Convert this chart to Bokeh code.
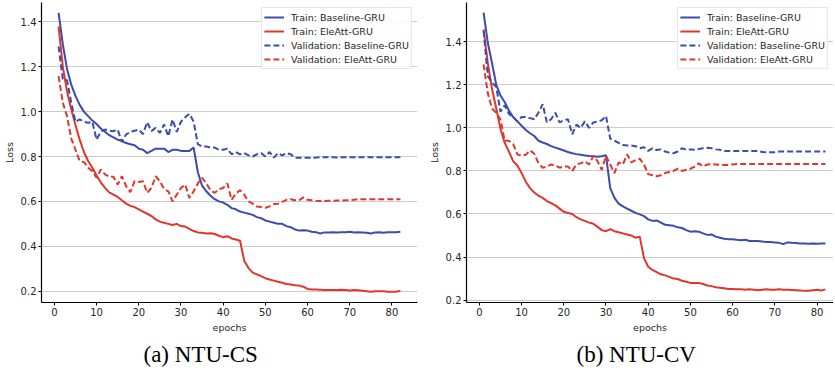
from bokeh.plotting import figure
from bokeh.models import Range1d, FixedTicker, NumeralTickFormatter, Title
from bokeh.layouts import row
from bokeh.embed import file_html
from bokeh.resources import INLINE

epochs = list(range(1, 83))
x_ticks = [0, 10, 20, 30, 40, 50, 60, 70, 80]
y_ticks = [0.2, 0.4, 0.6, 0.8, 1.0, 1.2, 1.4]
labels = ["Train: Baseline-GRU", "Train: EleAtt-GRU",
          "Validation: Baseline-GRU", "Validation: EleAtt-GRU"]
captions = ["(a) NTU-CS", "(b) NTU-CV"]

# ---- NTU-CS ----
cs_train_base = [1.44, 1.30, 1.19, 1.12, 1.07, 1.03, 1.00, 0.98, 0.96, 0.945,
                 0.925, 0.91, 0.895, 0.885, 0.875, 0.87, 0.86, 0.855, 0.85, 0.835,
                 0.83, 0.815, 0.825, 0.835, 0.835, 0.835, 0.82, 0.83, 0.83, 0.825,
                 0.825, 0.825, 0.84, 0.73, 0.67, 0.645, 0.625, 0.61, 0.60, 0.595,
                 0.585, 0.57, 0.565, 0.555, 0.55, 0.545, 0.54, 0.53, 0.525, 0.515,
                 0.51, 0.505, 0.50, 0.50, 0.49, 0.485, 0.475, 0.47, 0.472, 0.47,
                 0.465, 0.463, 0.457, 0.462, 0.462, 0.463, 0.462, 0.463, 0.463, 0.465,
                 0.462, 0.463, 0.462, 0.46, 0.457, 0.462, 0.463, 0.46, 0.463, 0.463,
                 0.463, 0.465]
cs_train_ele = [1.38, 1.20, 1.09, 1.01, 0.94, 0.875, 0.82, 0.78, 0.75, 0.715,
                0.685, 0.66, 0.64, 0.63, 0.62, 0.605, 0.59, 0.58, 0.575, 0.565,
                0.555, 0.545, 0.535, 0.52, 0.51, 0.505, 0.50, 0.495, 0.50, 0.49,
                0.488, 0.478, 0.468, 0.462, 0.46, 0.457, 0.458, 0.455, 0.447, 0.44,
                0.445, 0.435, 0.43, 0.425, 0.335, 0.303, 0.283, 0.275, 0.267, 0.258,
                0.252, 0.247, 0.242, 0.238, 0.232, 0.23, 0.227, 0.225, 0.22, 0.21,
                0.208, 0.208, 0.207, 0.205, 0.205, 0.205, 0.205, 0.206, 0.205, 0.203,
                0.205, 0.204, 0.202, 0.20, 0.198, 0.20, 0.20, 0.20, 0.198, 0.198,
                0.198, 0.202]
cs_val_base = [1.29, 1.145, 1.14, 1.04, 0.955, 0.965, 0.955, 0.95, 0.955, 0.875,
               0.91, 0.92, 0.915, 0.913, 0.92, 0.865, 0.898, 0.91, 0.915, 0.92,
               0.90, 0.953, 0.913, 0.928, 0.905, 0.943, 0.89, 0.965, 0.91, 0.955,
               0.975, 0.99, 0.955, 0.855, 0.845, 0.845, 0.84, 0.84, 0.83, 0.83,
               0.835, 0.81, 0.82, 0.81, 0.815, 0.805, 0.80, 0.81, 0.815, 0.80,
               0.82, 0.795, 0.815, 0.805, 0.815, 0.81, 0.795, 0.795, 0.795, 0.795,
               0.793, 0.795, 0.797, 0.797, 0.797, 0.797, 0.796, 0.797, 0.797, 0.797,
               0.797, 0.797, 0.797, 0.797, 0.797, 0.797, 0.797, 0.797, 0.797, 0.797,
               0.797, 0.797]
cs_val_ele = [1.158, 1.04, 0.98, 0.88, 0.83, 0.78, 0.775, 0.75, 0.735, 0.705,
              0.742, 0.72, 0.71, 0.71, 0.675, 0.712, 0.668, 0.641, 0.69, 0.686,
              0.69, 0.638, 0.66, 0.712, 0.69, 0.655, 0.645, 0.60, 0.63, 0.66,
              0.675, 0.615, 0.645, 0.68, 0.705, 0.68, 0.65, 0.638, 0.655, 0.66,
              0.68, 0.607, 0.635, 0.65, 0.63, 0.60, 0.59, 0.577, 0.575, 0.572,
              0.578, 0.588, 0.59, 0.598, 0.607, 0.61, 0.605, 0.605, 0.618, 0.607,
              0.605, 0.603, 0.602, 0.602, 0.603, 0.603, 0.604, 0.604, 0.605, 0.605,
              0.607, 0.61, 0.61, 0.61, 0.61, 0.61, 0.61, 0.61, 0.61, 0.61,
              0.61, 0.61]

# ---- NTU-CV ----
cv_train_base = [1.535, 1.395, 1.30, 1.20, 1.15, 1.12, 1.08, 1.05, 1.03, 1.01,
                 0.99, 0.975, 0.962, 0.94, 0.932, 0.925, 0.915, 0.908, 0.902, 0.895,
                 0.888, 0.882, 0.878, 0.875, 0.872, 0.869, 0.868, 0.866, 0.868, 0.873,
                 0.72, 0.675, 0.648, 0.635, 0.625, 0.615, 0.605, 0.598, 0.59, 0.575,
                 0.568, 0.57, 0.56, 0.55, 0.548, 0.545, 0.538, 0.535, 0.525, 0.518,
                 0.52, 0.518, 0.51, 0.503, 0.505, 0.495, 0.49, 0.485, 0.483, 0.483,
                 0.48, 0.478, 0.48, 0.475, 0.475, 0.475, 0.472, 0.47, 0.47, 0.468,
                 0.466, 0.46, 0.468, 0.466, 0.465, 0.463, 0.463, 0.462, 0.463, 0.462,
                 0.463, 0.463]
cv_train_ele = [1.457, 1.30, 1.18, 1.09, 0.995, 0.93, 0.89, 0.845, 0.825, 0.79,
                0.75, 0.72, 0.70, 0.685, 0.675, 0.66, 0.65, 0.64, 0.625, 0.61,
                0.605, 0.60, 0.585, 0.575, 0.568, 0.56, 0.555, 0.54, 0.525, 0.52,
                0.53, 0.52, 0.515, 0.51, 0.505, 0.50, 0.49, 0.495, 0.395, 0.355,
                0.34, 0.33, 0.32, 0.315, 0.308, 0.30, 0.298, 0.29, 0.285, 0.28,
                0.28, 0.28, 0.275, 0.268, 0.265, 0.26, 0.258, 0.255, 0.252, 0.252,
                0.25, 0.25, 0.248, 0.25, 0.248, 0.246, 0.248, 0.25, 0.248, 0.248,
                0.25, 0.248, 0.248, 0.247, 0.246, 0.245, 0.243, 0.244, 0.246, 0.248,
                0.245, 0.25]
cv_val_base = [1.45, 1.24, 1.21, 1.19, 1.075, 1.105, 1.065, 1.05, 1.03, 1.05,
               1.05, 1.045, 1.04, 1.07, 1.11, 1.025, 1.04, 1.07, 1.025, 1.035,
               1.04, 0.97, 1.015, 1.0, 1.03, 1.0, 1.025, 1.03, 1.035, 1.055,
               0.95, 0.94, 0.93, 0.92, 0.918, 0.918, 0.915, 0.905, 0.91, 0.893,
               0.905, 0.897, 0.90, 0.89, 0.885, 0.882, 0.89, 0.905, 0.898, 0.90,
               0.898, 0.902, 0.905, 0.907, 0.905, 0.90, 0.898, 0.893, 0.892, 0.892,
               0.892, 0.892, 0.892, 0.892, 0.892, 0.892, 0.888, 0.887, 0.887, 0.887,
               0.89, 0.89, 0.89, 0.89, 0.89, 0.89, 0.89, 0.89, 0.89, 0.89,
               0.89, 0.89]
cv_val_ele = [1.295, 1.16, 1.09, 1.07, 1.04, 0.94, 0.94, 0.925, 0.877, 0.87,
              0.875, 0.895, 0.88, 0.835, 0.815, 0.82, 0.83, 0.825, 0.815, 0.82,
              0.82, 0.80, 0.83, 0.835, 0.845, 0.83, 0.87, 0.845, 0.805, 0.87,
              0.83, 0.79, 0.84, 0.83, 0.877, 0.84, 0.85, 0.857, 0.83, 0.785,
              0.78, 0.775, 0.78, 0.79, 0.795, 0.80, 0.81, 0.80, 0.805, 0.81,
              0.82, 0.835, 0.82, 0.83, 0.832, 0.83, 0.828, 0.828, 0.828, 0.83,
              0.832, 0.832, 0.832, 0.832, 0.832, 0.832, 0.832, 0.832, 0.832, 0.832,
              0.832, 0.832, 0.832, 0.832, 0.832, 0.832, 0.832, 0.832, 0.832, 0.832,
              0.832, 0.832]

BLUE = "#3a4cad"
RED = "#e0362c"
TICK_FONT = "DejaVu Sans"


def make_panel(series, caption, frame_w, x_end, y_start, y_end, border_right, cap_offset):
    p = figure(frame_width=frame_w, frame_height=300,
               x_range=Range1d(-3.05, x_end), y_range=Range1d(y_start, y_end),
               output_backend="svg", toolbar_location=None,
               min_border_left=0, min_border_right=border_right,
               min_border_top=2, min_border_bottom=0,
               background_fill_color="white", border_fill_color="white")
    p.outline_line_color = None
    p.xgrid.grid_line_color = None
    p.ygrid.grid_line_color = "#cccccc"
    p.ygrid.grid_line_width = 1
    p.xaxis.ticker = FixedTicker(ticks=x_ticks)
    p.yaxis.ticker = FixedTicker(ticks=y_ticks)
    p.yaxis.formatter = NumeralTickFormatter(format="0.0")
    for ax in (p.xaxis[0], p.yaxis[0]):
        ax.axis_line_color = "black"
        ax.axis_line_width = 1.2
        ax.major_tick_line_color = "black"
        ax.major_tick_out = 3
        ax.major_tick_in = 0
        ax.minor_tick_line_color = None
        ax.major_label_text_font = TICK_FONT
        ax.major_label_text_font_size = "10px"
        ax.major_label_text_color = "#262626"
        ax.major_label_standoff = 2
        ax.axis_label_text_font = TICK_FONT
        ax.axis_label_text_font_size = "9.5px"
        ax.axis_label_text_font_style = "normal"
        ax.axis_label_text_color = "#262626"
        ax.axis_label_standoff = 3
    p.xaxis.axis_label = "epochs"
    p.yaxis.axis_label = "Loss"

    colors = [BLUE, RED, BLUE, RED]
    dashes = ["solid", "solid", "6 3", "6 3"]
    for ys, c, d, lab in zip(series, colors, dashes, labels):
        p.line(epochs, ys, line_color=c, line_width=2, line_dash=d, legend_label=lab)

    lg = p.legend[0]
    lg.location = "top_right"
    lg.margin = 5
    lg.padding = 2
    lg.spacing = 0
    lg.label_height = 14
    lg.glyph_height = 14
    lg.glyph_width = 20
    lg.label_standoff = 7
    lg.label_text_font = TICK_FONT
    lg.label_text_font_size = "9.5px"
    lg.label_text_color = "#262626"
    lg.border_line_color = "#cccccc"
    lg.border_line_width = 1
    lg.background_fill_color = "white"
    lg.background_fill_alpha = 0.85

    p.add_layout(Title(text=caption, align="left", text_font="Liberation Serif",
                       text_font_size="23px", text_font_style="normal",
                       text_color="black", standoff=9, offset=cap_offset), "below")
    return p


p1 = make_panel([cs_train_base, cs_train_ele, cs_val_base, cs_val_ele], captions[0],
                376, 86.05, 0.1497, 1.486, 8, 102)
p2 = make_panel([cv_train_base, cv_train_ele, cv_val_base, cv_val_ele], captions[1],
                367, 83.9, 0.189, 1.582, 0, 110)

layout = row(p1, p2)
open("out.html", "w").write(file_html(layout, INLINE))
